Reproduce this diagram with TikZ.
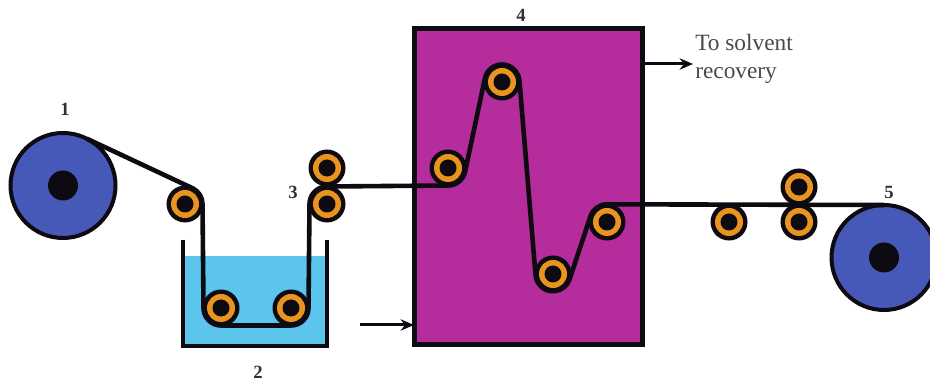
\documentclass[tikz,border=0pt]{standalone}
\usepackage{fontspec}
\setmainfont{Liberation Serif}
\usetikzlibrary{arrows.meta}
\definecolor{rollblue}{HTML}{4759B8}
\definecolor{ovenmag}{HTML}{B52C9C}
\definecolor{bathblue}{HTML}{5CC5EE}
\definecolor{ringor}{HTML}{E8941F}
\definecolor{inkk}{HTML}{0E0A12}
\tikzset{
  roller/.style={circle,draw=inkk,fill=inkk,line width=2*0.75pt,outer sep=0pt,minimum size=35*0.75pt,inner sep=0pt},
  rollerring/.style={circle,fill=ringor,minimum size=28*0.75pt,inner sep=0pt,outer sep=0pt},
  rollerhub/.style={circle,fill=inkk,minimum size=17*0.75pt,inner sep=0pt,outer sep=0pt},
  bigroll/.style={circle,draw=inkk,fill=rollblue,line width=4*0.75pt,outer sep=0pt,inner sep=0pt},
  bighub/.style={circle,fill=inkk,minimum size=30*0.75pt,inner sep=0pt,outer sep=0pt},
  web/.style={draw=inkk,line width=4.6*0.75pt,line join=round},
  flow/.style={draw=inkk,line width=3*0.75pt,-{Stealth[length=10pt,width=8.5pt]}},
  numlabel/.style={font=\fontsize{14}{16}\selectfont\bfseries,text=inkk!85,inner sep=0pt},
  plainlabel/.style={font=\fontsize{17.5}{20}\selectfont,text=inkk!75,inner sep=0pt,anchor=west}
}
\begin{document}
\begin{tikzpicture}[x=0.75pt,y=0.75pt]
\useasboundingbox (0,0) rectangle (930,381);
% bath
\node[fill=bathblue,minimum width=144*0.75pt,minimum height=90*0.75pt,inner sep=0pt,outer sep=0pt] (bath) at (255,80) {};
\draw[inkk,line width=3.6*0.75pt,line join=miter] (183,141) -- (183,35) -- (327,35) -- (327,141);
% oven
\node[rectangle,draw=inkk,fill=ovenmag,line width=5*0.75pt,minimum width=228*0.75pt,minimum height=316*0.75pt,inner sep=0pt,outer sep=0pt] (oven) at (528,194) {};
% big rolls
\node[bigroll,minimum size=105*0.75pt] (rollA) at (63,195.5) {};
\node[bighub] (rollAhub) at (rollA) {};
\node[bigroll,minimum size=105*0.75pt] (rollB) at (884,123.5) {};
\node[bighub] (rollBhub) at (rollB) {};
% rollers
\foreach \nm/\px/\py in {ra/185/177,ba/221/73,bb/291/73,pb/327/177,pt/327/213,oa/448/213,ob/502/299,oc/553/107,od/607/159,ea/729/159,et/799/194,eb/799/159}{
  \node[roller] (\nm) at (\px,\py) {};
}
% web
\draw[web] (rollA.63) -- (ra.63) arc[start angle=63,end angle=0,radius=17.5]
  -- (ba.180) arc[start angle=180,end angle=270,radius=17.5]
  -- (bb.270) arc[start angle=270,end angle=360,radius=17.5]
  -- (pb.180) arc[start angle=180,end angle=90,radius=17.5]
  -- (oa.270) arc[start angle=270,end angle=348,radius=17.5]
  -- (ob.168) arc[start angle=168,end angle=4.75,radius=17.5]
  -- (oc.184.75) arc[start angle=184.75,end angle=341.7,radius=17.5]
  -- (od.161.7) arc[start angle=161.7,end angle=90,radius=17.5]
  -- (rollB.north);
\foreach \nm in {ra,ba,bb,pb,pt,oa,ob,oc,od,ea,et,eb}{
  \node[rollerring] (\nm ring) at (\nm) {};
  \node[rollerhub] (\nm hub) at (\nm) {};
}
% flows
\coordinate (inlet) at (360,56);
\coordinate (outlet) at (693,317);
\draw[flow] (inlet) -- (inlet -| oven.west);
\draw[flow] (outlet -| oven.east) -- (outlet);
% labels
\node[numlabel] (l1) at (65,272) {1};
\node[numlabel] (l2) at (258,9) {2};
\node[numlabel] (l3) at (293,189) {3};
\node[numlabel] (l4) at (521,366) {4};
\node[numlabel] (l5) at (889,189) {5};
\node[plainlabel] (t1) at (695,338) {To solvent};
\node[plainlabel] (t2) at (695,305) {recovery};
\end{tikzpicture}
\end{document}
